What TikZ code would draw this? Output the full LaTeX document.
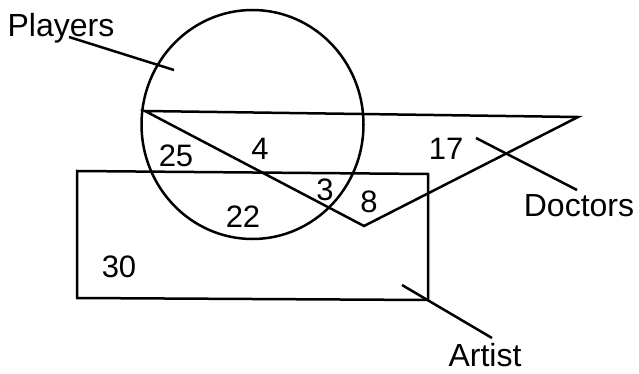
\documentclass[tikz,border=0pt]{standalone}
\usepackage{fontspec}
\setmainfont{Liberation Sans}
\begin{document}
\begin{tikzpicture}[x=1pt,y=-1pt,
  shape line/.style={line width=2.5pt, line join=miter},
  leader/.style={line width=2.5pt},
  num/.style={inner sep=0pt, anchor=base, font=\fontsize{31}{36}\selectfont},
  lbl/.style={inner sep=0pt, anchor=base, font=\fontsize{32}{38}\selectfont}]
\useasboundingbox (0,0) rectangle (639,374);
% shapes
\coordinate (pc) at (252.5,124.5);
\draw[shape line] (pc) ellipse[x radius=111, y radius=114.5];
\coordinate (t1) at (145,111);
\coordinate (t2) at (578,117);
\coordinate (t3) at (364,226);
\draw[shape line] (t1) -- (t2) -- (t3) -- cycle;
\coordinate (r1) at (77,171);
\coordinate (r2) at (428,174);
\coordinate (r3) at (428,300);
\coordinate (r4) at (77,298);
\draw[shape line] (r1) -- (r2) -- (r3) -- (r4) -- cycle;
% numbers
\node[num] (n25) at (176,167) {25};
\node[num] (n4) at (260,160) {4};
\node[num] (n17) at (446,160) {17};
\node[num] (n3) at (325,200) {3};
\node[num] (n8) at (369,212) {8};
\node[num] (n22) at (243,227) {22};
\node[num] (n30) at (119,277) {30};
% labels
\node[lbl] (players) at (61,37) {Players};
\node[lbl] (doctors) at (579,216) {Doctors};
\node[lbl] (artist) at (485,366) {Artist};
% leaders
\coordinate (pa) at (69,37);
\coordinate (pb) at (174,70);
\draw[leader] (pa) -- (pb);
\coordinate (da) at (476,138);
\coordinate (db) at (577,190);
\draw[leader] (da) -- (db);
\coordinate (aa) at (402,285);
\coordinate (ab) at (492,338);
\draw[leader] (aa) -- (ab);
\end{tikzpicture}
\end{document}
